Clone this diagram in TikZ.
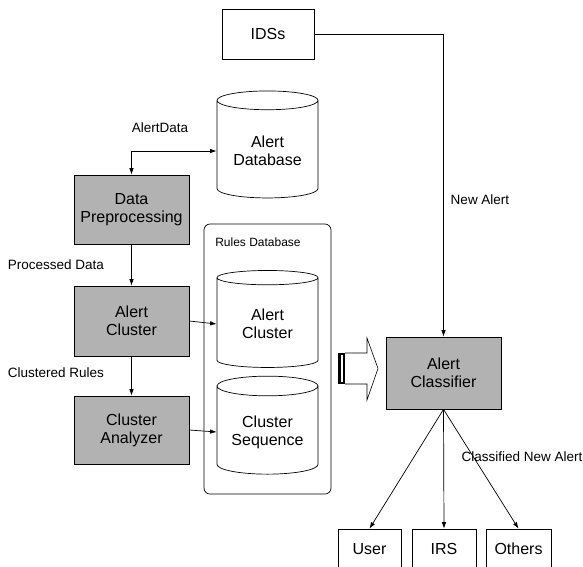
\documentclass[tikz,border=0pt]{standalone}
\usepackage{fontspec}
\setmainfont{Liberation Sans}
\usetikzlibrary{shapes.geometric,arrows.meta}

\begin{document}
\begin{tikzpicture}[x=1pt,y=-1pt,line width=0.7pt,
    >={Latex[length=6.5pt,width=4.5pt]},
    box/.style={draw, rectangle, align=center, font=\fontsize{16}{18}\selectfont},
    module/.style={box, fill=black!30, minimum width=115pt},
    store/.style={draw, cylinder, shape border rotate=90, aspect=0.25, align=center,
        minimum width=101pt, font=\fontsize{16}{18}\selectfont},
    lbl/.style={font=\fontsize{13.5}{15}\selectfont}]
\useasboundingbox (0,0) rectangle (583,566);

\node (ids) at (268,34) [box, minimum width=92pt, minimum height=50pt] {IDSs};
\node (alertdb) at (267.5,151) [store, minimum height=107pt] {Alert\\Database};

\node (prep) at (131.5,209.5) [module, minimum height=69pt] {Data\\Preprocessing};
\node (cluster) at (131.5,321) [module, minimum height=70pt] {Alert\\Cluster};
\node (analyzer) at (131.5,430) [module, minimum height=68pt] {Cluster\\Analyzer};

\node (rulesdb) at (267.5,359) [draw, rounded corners=6pt, minimum width=127pt, minimum height=270pt] {};
\node (rulestitle) at (258,242) [font=\fontsize{12}{14}\selectfont] {Rules Database};
\node (clusterdb) at (267.5,324) [store, minimum height=97pt] {Alert\\Cluster};
\node (seqdb) at (267.5,432) [store, minimum height=98pt] {Cluster\\Sequence};

\node (classifier) at (443.5,373) [module, minimum height=72pt] {Alert\\Classifier};

\node (user) at (369.5,549) [box, minimum width=63pt, minimum height=40pt] {User};
\node (irs) at (444,549) [box, minimum width=64pt, minimum height=40pt] {IRS};
\node (others) at (518.5,549) [box, minimum width=65pt, minimum height=40pt] {Others};

% data flow
\draw[<->] (prep.north) |- (alertdb.west);
\draw[->] (prep) -- (cluster);
\draw[->] (cluster) -- (analyzer);
\draw[->] (cluster.east) -- (clusterdb.west);
\draw[->] (analyzer.east) -- (seqdb.west);
\draw[->] (ids.east) -| (classifier.north);

\foreach \t in {user,irs,others}
    {
    \draw[->] (classifier.south) -- (\t.north);
    }

% rules go to the classifier
\fill (338,353) rectangle (345,384);
\fill[white] (340.5,355) rectangle (342.5,382);
\draw[line width=0.6pt] (345,353) -- (367,353) -- (367,338) -- (378,368.5) -- (367,400) -- (367,384) -- (345,384);

\node (lalertdata) at (160,128) [lbl] {AlertData};
\node (lprocessed) at (56,265) [lbl] {Processed Data};
\node (lclustered) at (56,373) [lbl] {Clustered Rules};
\node (lnew) at (480,200) [lbl] {New Alert};
\node (lclassified) at (522,457) [lbl] {Classified New Alert};

\end{tikzpicture}
\end{document}
